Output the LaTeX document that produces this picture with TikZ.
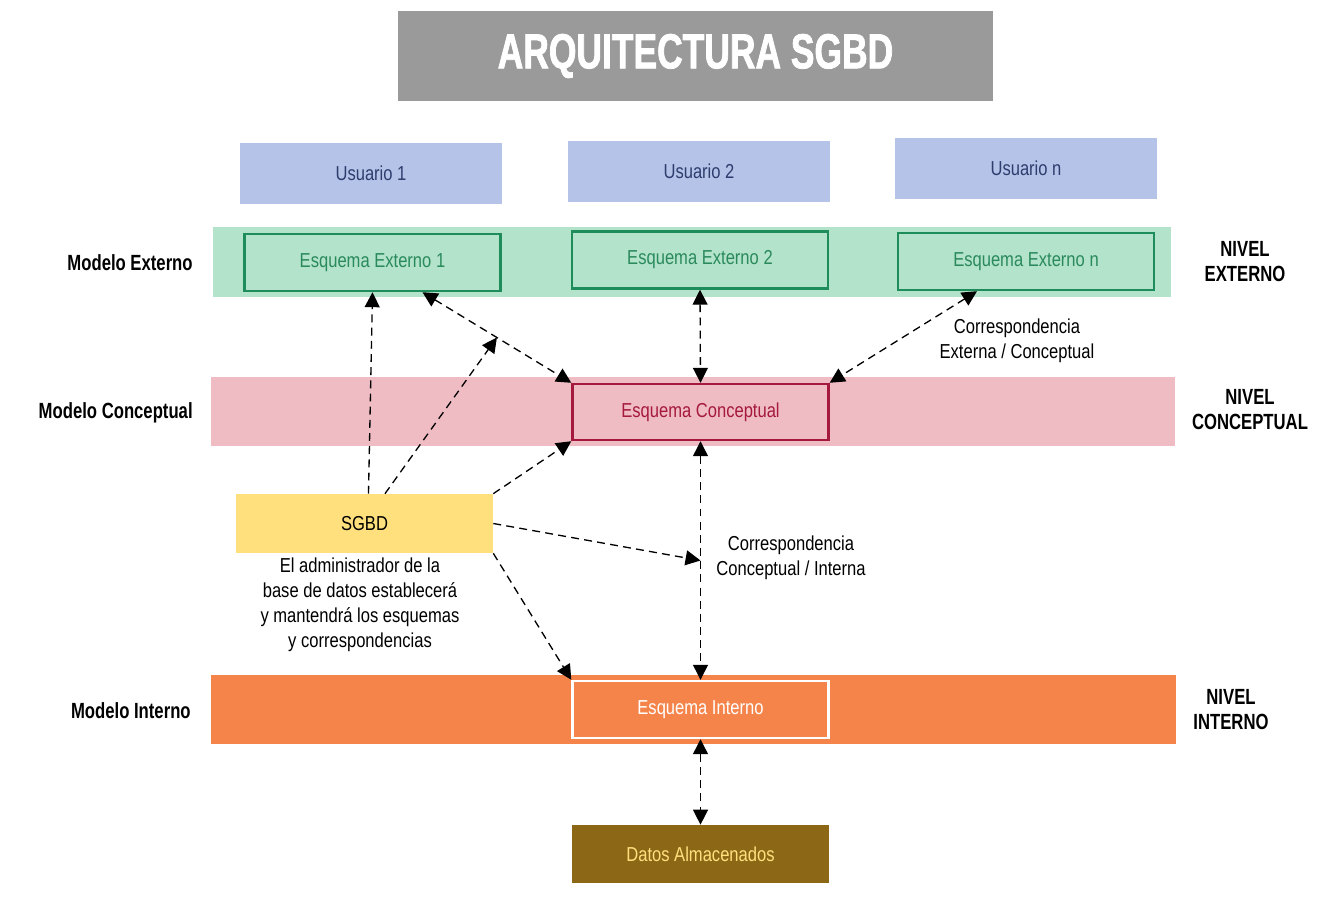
\documentclass[tikz,border=0pt]{standalone}
\usepackage{fontspec}
\setmainfont{Liberation Sans}[FakeStretch=0.82]
\newfontfamily\titlefont{Liberation Sans}[FakeStretch=0.72,FakeBold=1.5]
\newfontfamily\lblfont{Liberation Sans}[FakeStretch=0.76]
\usetikzlibrary{arrows.meta,calc}
\definecolor{titlegray}{HTML}{9B9A9B}
\definecolor{userblue}{HTML}{B4C3E7}
\definecolor{usertext}{HTML}{2E3C6E}
\definecolor{extband}{HTML}{B3E3CB}
\definecolor{extborder}{HTML}{1F8C5B}
\definecolor{exttext}{HTML}{2A8A5C}
\definecolor{concband}{HTML}{F0BCC3}
\definecolor{concborder}{HTML}{A4193D}
\definecolor{sgbdyellow}{HTML}{FFE07D}
\definecolor{intband}{HTML}{F5844B}
\definecolor{datosbrown}{HTML}{8B6716}
\begin{document}
\begin{tikzpicture}[x=0.02cm,y=-0.02cm,
  bodytext/.style={font=\fontsize{11.5}{14}\selectfont},
  plainbox/.style={inner sep=0pt,minimum width=5.12cm,minimum height=1.14cm,bodytext},
  userbox/.style={plainbox,fill=userblue,text=usertext,minimum width=5.24cm,minimum height=1.22cm},
  extbox/.style={plainbox,draw=extborder,line width=1.4pt,text=exttext},
  band/.style={inner sep=0pt,minimum height=1.38cm},
  arr/.style={dashed,dash pattern=on 4.5pt off 3pt,line width=0.75pt,black,
    >={Triangle[length=8.5pt,width=8.5pt]}},
  sidelabel/.style={inner sep=0pt,font=\lblfont\bfseries\fontsize{12.5}{14.2}\selectfont,align=center},
  note/.style={bodytext,font=\fontsize{11.5}{14.2}\selectfont,align=center}
]
\useasboundingbox (0,0) rectangle (1343,900);

% title
\node[fill=titlegray,minimum width=11.9cm,minimum height=1.8cm,inner sep=0pt,text=white,
  font=\titlefont\bfseries\fontsize{28}{30}\selectfont] (title) at (695.5,56) {ARQUITECTURA SGBD};

% users
\node[userbox] (u1) at (371,173.5) {Usuario 1};
\node[userbox] (u2) at (699,171.5) {Usuario 2};
\node[userbox] (un) at (1026,168.5) {Usuario n};

% bands
\node[band,fill=extband,minimum width=19.16cm,minimum height=1.4cm] (extb) at (692,262) {};
\node[band,fill=concband,minimum width=19.28cm] (concb) at (693,411) {};
\node[band,fill=intband,minimum width=19.3cm] (intb) at (693.5,709) {};

% external schemas
\node[extbox] (ext1) at (372.5,262.5) {Esquema Externo 1};
\node[extbox] (ext2) at (700,260) {Esquema Externo 2};
\node[extbox] (extn) at (1026,261.5) {Esquema Externo n};

% conceptual
\node[plainbox,draw=concborder,line width=1.4pt,text=concborder,minimum height=1.12cm] (conc) at (700.5,412) {Esquema Conceptual};

% SGBD
\node[plainbox,fill=sgbdyellow,text=black,minimum width=5.14cm,minimum height=1.18cm] (sgbd) at (364.5,523.5) {SGBD};

% internal
\node[plainbox,draw=white,line width=1.4pt,text=white] (int) at (700.5,709.5) {Esquema Interno};

% data
\node[plainbox,fill=datosbrown,text=sgbdyellow,minimum width=5.14cm,minimum height=1.16cm] (datos) at (700.5,854) {Datos Almacenados};

% side labels
\node[sidelabel,anchor=east] (lme) at (193,263) {Modelo Externo};
\node[sidelabel,anchor=east] (lmc) at (193,413) {Modelo Conceptual};
\node[sidelabel,anchor=east] (lmi) at (191,711) {Modelo Interno};
\node[sidelabel] (lne) at (1245,262) {NIVEL\\EXTERNO};
\node[sidelabel] (lnc) at (1250,410) {NIVEL\\CONCEPTUAL};
\node[sidelabel] (lni) at (1231,710) {NIVEL\\INTERNO};

% notes
\node[note] (n1) at (1017,340.5) {Correspondencia\\Externa / Conceptual};
\node[note] (n2) at (791,557.5) {Correspondencia\\Conceptual / Interna};
\node[note] (n3) at (360,605) {El administrador de la\\base de datos establecerá\\y mantendrá los esquemas\\y correspondencias};

% connectors
\draw[arr,->] ($(sgbd.north)+(4,0)$) -- (ext1.south);
\draw[arr,<->] ($(ext1.south)+(50,0)$) -- coordinate[pos=0.5] (m1) (conc.north west);
\draw[arr,->] ($(sgbd.north)+(20.5,0)$) -- (m1);
\draw[arr,->] (sgbd.north east) -- (conc.south west);
\draw[arr,<->] (ext2.south) -- (conc.north);
\draw[arr,<->] ($(extn.south)+(-49,0)$) -- (conc.north east);
\draw[arr,<->] (conc.south) -- coordinate[pos=0.5] (m2) (int.north);
\draw[arr,->] (sgbd.east) -- (m2);
\draw[arr,->] (sgbd.south east) -- (int.north west);
\draw[arr,<->] (int.south) -- (datos.north);
\end{tikzpicture}
\end{document}
